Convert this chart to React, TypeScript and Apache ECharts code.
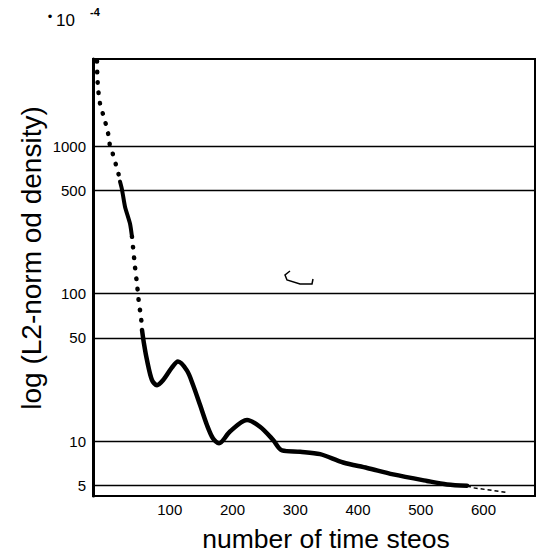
import { useEffect, useRef } from "react";
import * as echarts from "echarts";

// Upper dotted part of the curve (time step, L2-norm of density * 10^4)
const topDotSteps = [-15.9, -15.5, -14.3, -11.2, -6.4, 0, 3.2, 4.8, 8, 12.7, 17.5, 20.7];
const topDotDensity = [3764, 3073, 2469, 1953, 1643, 1318, 1128, 995, 921, 786, 672, 574];

// Densely dotted (nearly solid) part
const denseSteps = [20.7, 23.9, 28.7, 36.7, 39.8];
const denseDensity = [574, 507, 388, 297, 243];

// Lower dotted part
const lowDotSteps = [39.8, 41.4, 44.6, 47.8, 49.4, 51, 54.2, 55.8];
const lowDotDensity = [243, 208, 152, 116, 99.5, 85.1, 69.4, 56.6];

// Solid lower part
const solidSteps = [55.8, 59, 63.7, 71.7, 79.7, 89.2, 103.6, 113.1, 127.5, 137.1, 148.2, 159.4, 169, 178.5, 196, 223.1, 243.8, 264.5, 278.9, 307.8, 339.6, 376.3, 414.5, 456, 510, 541.8, 573.7];
const solidDensity = [56.6, 45.5, 35.4, 25.9, 23.9, 25.8, 31.6, 34.6, 30.0, 24.0, 17.6, 12.8, 10.4, 9.65, 11.6, 13.9, 12.5, 10.2, 8.64, 8.46, 8.15, 7.15, 6.57, 5.94, 5.36, 5.08, 4.98];

// Thin dashed tail
const tailSteps = [573.7, 583.3, 637.5];
const tailDensity = [4.98, 4.82, 4.48];

// Axis ticks
const xTickLabels = [100, 200, 300, 400, 500, 600];
const yGridValues = [5, 10, 50, 100, 500, 1000];

const FONT = "'Liberation Sans', Arial, Helvetica, sans-serif";

const pairs = (xs: number[], ys: number[]) => xs.map((x, i) => [x, ys[i]]);

const dotStyle = { color: "#000", width: 4.5, type: [0.5, 10], cap: "round" };

export default function App() {
  const ref = useRef<HTMLDivElement>(null);
  useEffect(() => {
    if (!ref.current) return;
    const chart = echarts.init(ref.current, undefined, { renderer: "svg" });
    chart.setOption({
      animation: false,
      backgroundColor: "#fff",
      grid: {
        left: 93,
        right: 7,
        top: 59,
        bottom: 61,
        show: true,
        borderColor: "#000",
        borderWidth: 2,
        backgroundColor: "transparent",
      },
      xAxis: {
        type: "value",
        min: -22.3,
        max: 682,
        axisLine: { show: true, onZero: false, lineStyle: { color: "#000", width: 2 } },
        axisTick: { show: false },
        splitLine: { show: false },
        axisLabel: {
          customValues: xTickLabels,
          color: "#000",
          fontSize: 15,
          fontFamily: FONT,
          margin: 6,
        },
      },
      yAxis: {
        type: "log",
        logBase: 10,
        min: 4.24,
        max: 3890,
        axisLine: { show: true, onZero: false, lineStyle: { color: "#000", width: 3 } },
        axisTick: { show: false },
        axisLabel: { show: false },
        splitLine: { show: false },
        minorSplitLine: { show: false },
      },
      graphic: [
        {
          type: "text",
          x: 31,
          y: 258,
          rotation: Math.PI / 2,
          style: {
            text: "log (L2-norm od density)",
            fontSize: 28,
            fontFamily: FONT,
            fill: "#000",
            align: "center",
            verticalAlign: "middle",
          },
        },
        {
          type: "text",
          x: 326,
          y: 539,
          style: {
            text: "number of time steos",
            fontSize: 26.5,
            fontFamily: FONT,
            fill: "#000",
            align: "center",
            verticalAlign: "middle",
          },
        },
        {
          type: "text",
          x: 50,
          y: 16,
          style: { text: "•", fontSize: 13, fontFamily: FONT, fill: "#000", align: "center", verticalAlign: "middle" },
        },
        {
          type: "text",
          x: 56,
          y: 20,
          style: { text: "10", fontSize: 17, fontFamily: FONT, fill: "#000", align: "left", verticalAlign: "middle" },
        },
        {
          type: "text",
          x: 90,
          y: 12,
          style: { text: "-4", fontSize: 11, fontWeight: "bold", fontFamily: FONT, fill: "#000", align: "left", verticalAlign: "middle" },
        },
        {
          type: "polyline",
          shape: { points: [[290, 271], [285, 275], [287, 280], [300, 284], [312, 284], [313, 279]] },
          style: { stroke: "#000", lineWidth: 1.5, fill: null },
        },
      ],
      series: [
        {
          type: "line",
          name: "topDots",
          data: pairs(topDotSteps, topDotDensity),
          showSymbol: false,
          symbol: "none",
          smooth: 0.2,
          lineStyle: dotStyle,
          silent: true,
          z: 3,
        },
        {
          type: "line",
          name: "dense",
          data: pairs(denseSteps, denseDensity),
          showSymbol: false,
          symbol: "none",
          smooth: 0.2,
          lineStyle: { color: "#000", width: 4, cap: "round" },
          silent: true,
          z: 3,
        },
        {
          type: "line",
          name: "lowDots",
          data: pairs(lowDotSteps, lowDotDensity),
          showSymbol: false,
          symbol: "none",
          smooth: 0.2,
          lineStyle: dotStyle,
          silent: true,
          z: 3,
        },
        {
          type: "line",
          name: "solid",
          data: pairs(solidSteps, solidDensity),
          showSymbol: false,
          symbol: "none",
          smooth: 0.3,
          lineStyle: { color: "#000", width: 4.5, cap: "round", join: "round" },
          silent: true,
          z: 3,
          markLine: {
            silent: true,
            symbol: "none",
            animation: false,
            lineStyle: { color: "#000", width: 1.3, type: "solid" },
            label: {
              show: true,
              position: "start",
              distance: 7,
              color: "#000",
              fontSize: 15,
              fontFamily: FONT,
              formatter: (p: any) => String(p.value),
            },
            emphasis: { disabled: true },
            data: yGridValues.map((v) => ({ yAxis: v })),
          },
        },
        {
          type: "line",
          name: "tail",
          data: pairs(tailSteps, tailDensity),
          showSymbol: false,
          symbol: "none",
          lineStyle: { color: "#000", width: 1.5, type: [4, 3] },
          silent: true,
          z: 3,
        },
      ],
    });
    return () => chart.dispose();
  }, []);
  return (
    <div
      ref={ref}
      style={{ position: "fixed", left: 0, top: 0, width: 542, height: 557, background: "#fff" }}
    />
  );
}
